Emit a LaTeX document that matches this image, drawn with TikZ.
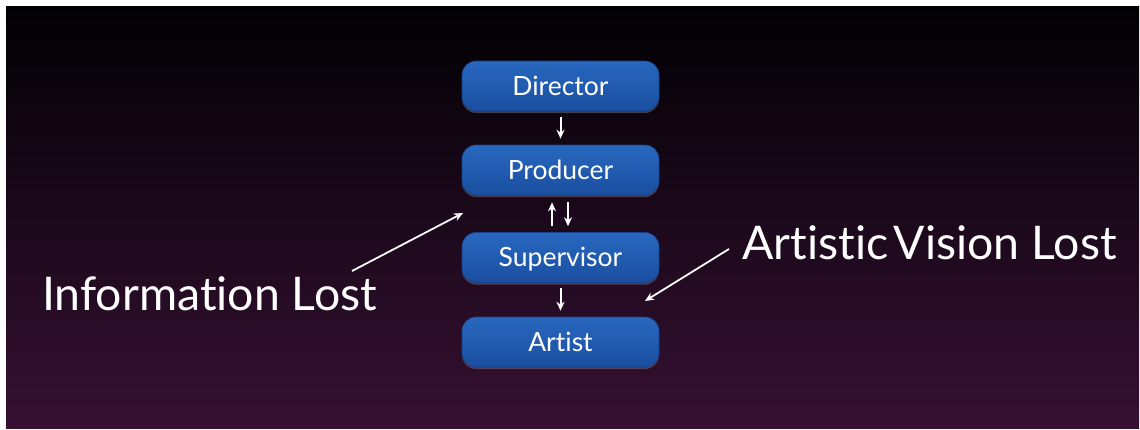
\documentclass[tikz,border=0pt]{standalone}
\usepackage{fontspec}
\setmainfont[Ligatures={NoCommon}]{Lato}
\usetikzlibrary{arrows.meta,shadows}

\definecolor{bgtop}{RGB}{1,1,4}
\definecolor{bgbottom}{RGB}{54,16,50}
\definecolor{boxtop}{RGB}{40,104,190}
\definecolor{boxbottom}{RGB}{26,78,160}
\definecolor{boxedge}{RGB}{22,64,140}

\tikzset{
  rolebox/.style={
    rounded corners=14pt,
    top color=boxtop, bottom color=boxbottom,
    draw=boxedge, line width=0.6pt,
    minimum width=197pt, minimum height=50pt,
    text height=18pt, text depth=0pt, inner sep=0pt,
    text=white, font=\fontsize{26.5}{30}\selectfont,
    drop shadow={opacity=0.45, shadow xshift=0pt, shadow yshift=-2pt}
  },
  flow/.style={draw=white, line width=2pt,
    -{Stealth[length=9pt,width=8pt]}},
  pointer/.style={draw=white, line width=1.8pt,
    -{Stealth[length=9pt,width=8pt]}},
  caption/.style={text=white, inner sep=0pt, anchor=base west,
    font=\fontsize{46.4}{52}\selectfont}
}

\begin{document}
\begin{tikzpicture}[x=1pt,y=-1pt]
  \useasboundingbox (0,0) rectangle (1140,429);
  % page and dark gradient slide
  \fill[white] (0,0) rectangle (1140,429);
  \shade[top color=bgtop, bottom color=bgbottom] (6,6) rectangle (1139,428);

  % chain of roles
  \node[rolebox] (dir) at (560.5,86)  {Director};
  \node[rolebox] (pro) at (560.5,170) {Producer};
  \node[rolebox] (sup) at (560.5,257.5) {Supervisor};
  \node[rolebox] (art) at (560.5,342) {Artist};

  \draw[flow, shorten <=6pt, shorten >=6pt] (dir.south) -- (pro.north);
  \draw[flow, shorten <=6pt, shorten >=7pt] ([xshift=-8.5pt]sup.north) -- ([xshift=-8.5pt]pro.south);
  \draw[flow, shorten <=7pt, shorten >=6pt] ([xshift=7.5pt]pro.south) -- ([xshift=7.5pt]sup.north);
  \draw[flow, shorten <=5pt, shorten >=6pt] (sup.south) -- (art.north);

  % side remarks
  \node[caption] (info) at (42,310) {Information Lost};
  \node[caption] (vision) at (742,259) {Artistic\hspace{0.12em}Vision Lost};

  \coordinate (infoTail) at (352,271);
  \coordinate (infoTip)  at (463,213);
  \coordinate (visionTail) at (729,249);
  \coordinate (visionTip)  at (645,301);
  \draw[pointer] (infoTail) -- (infoTip);
  \draw[pointer] (visionTail) -- (visionTip);
\end{tikzpicture}
\end{document}
